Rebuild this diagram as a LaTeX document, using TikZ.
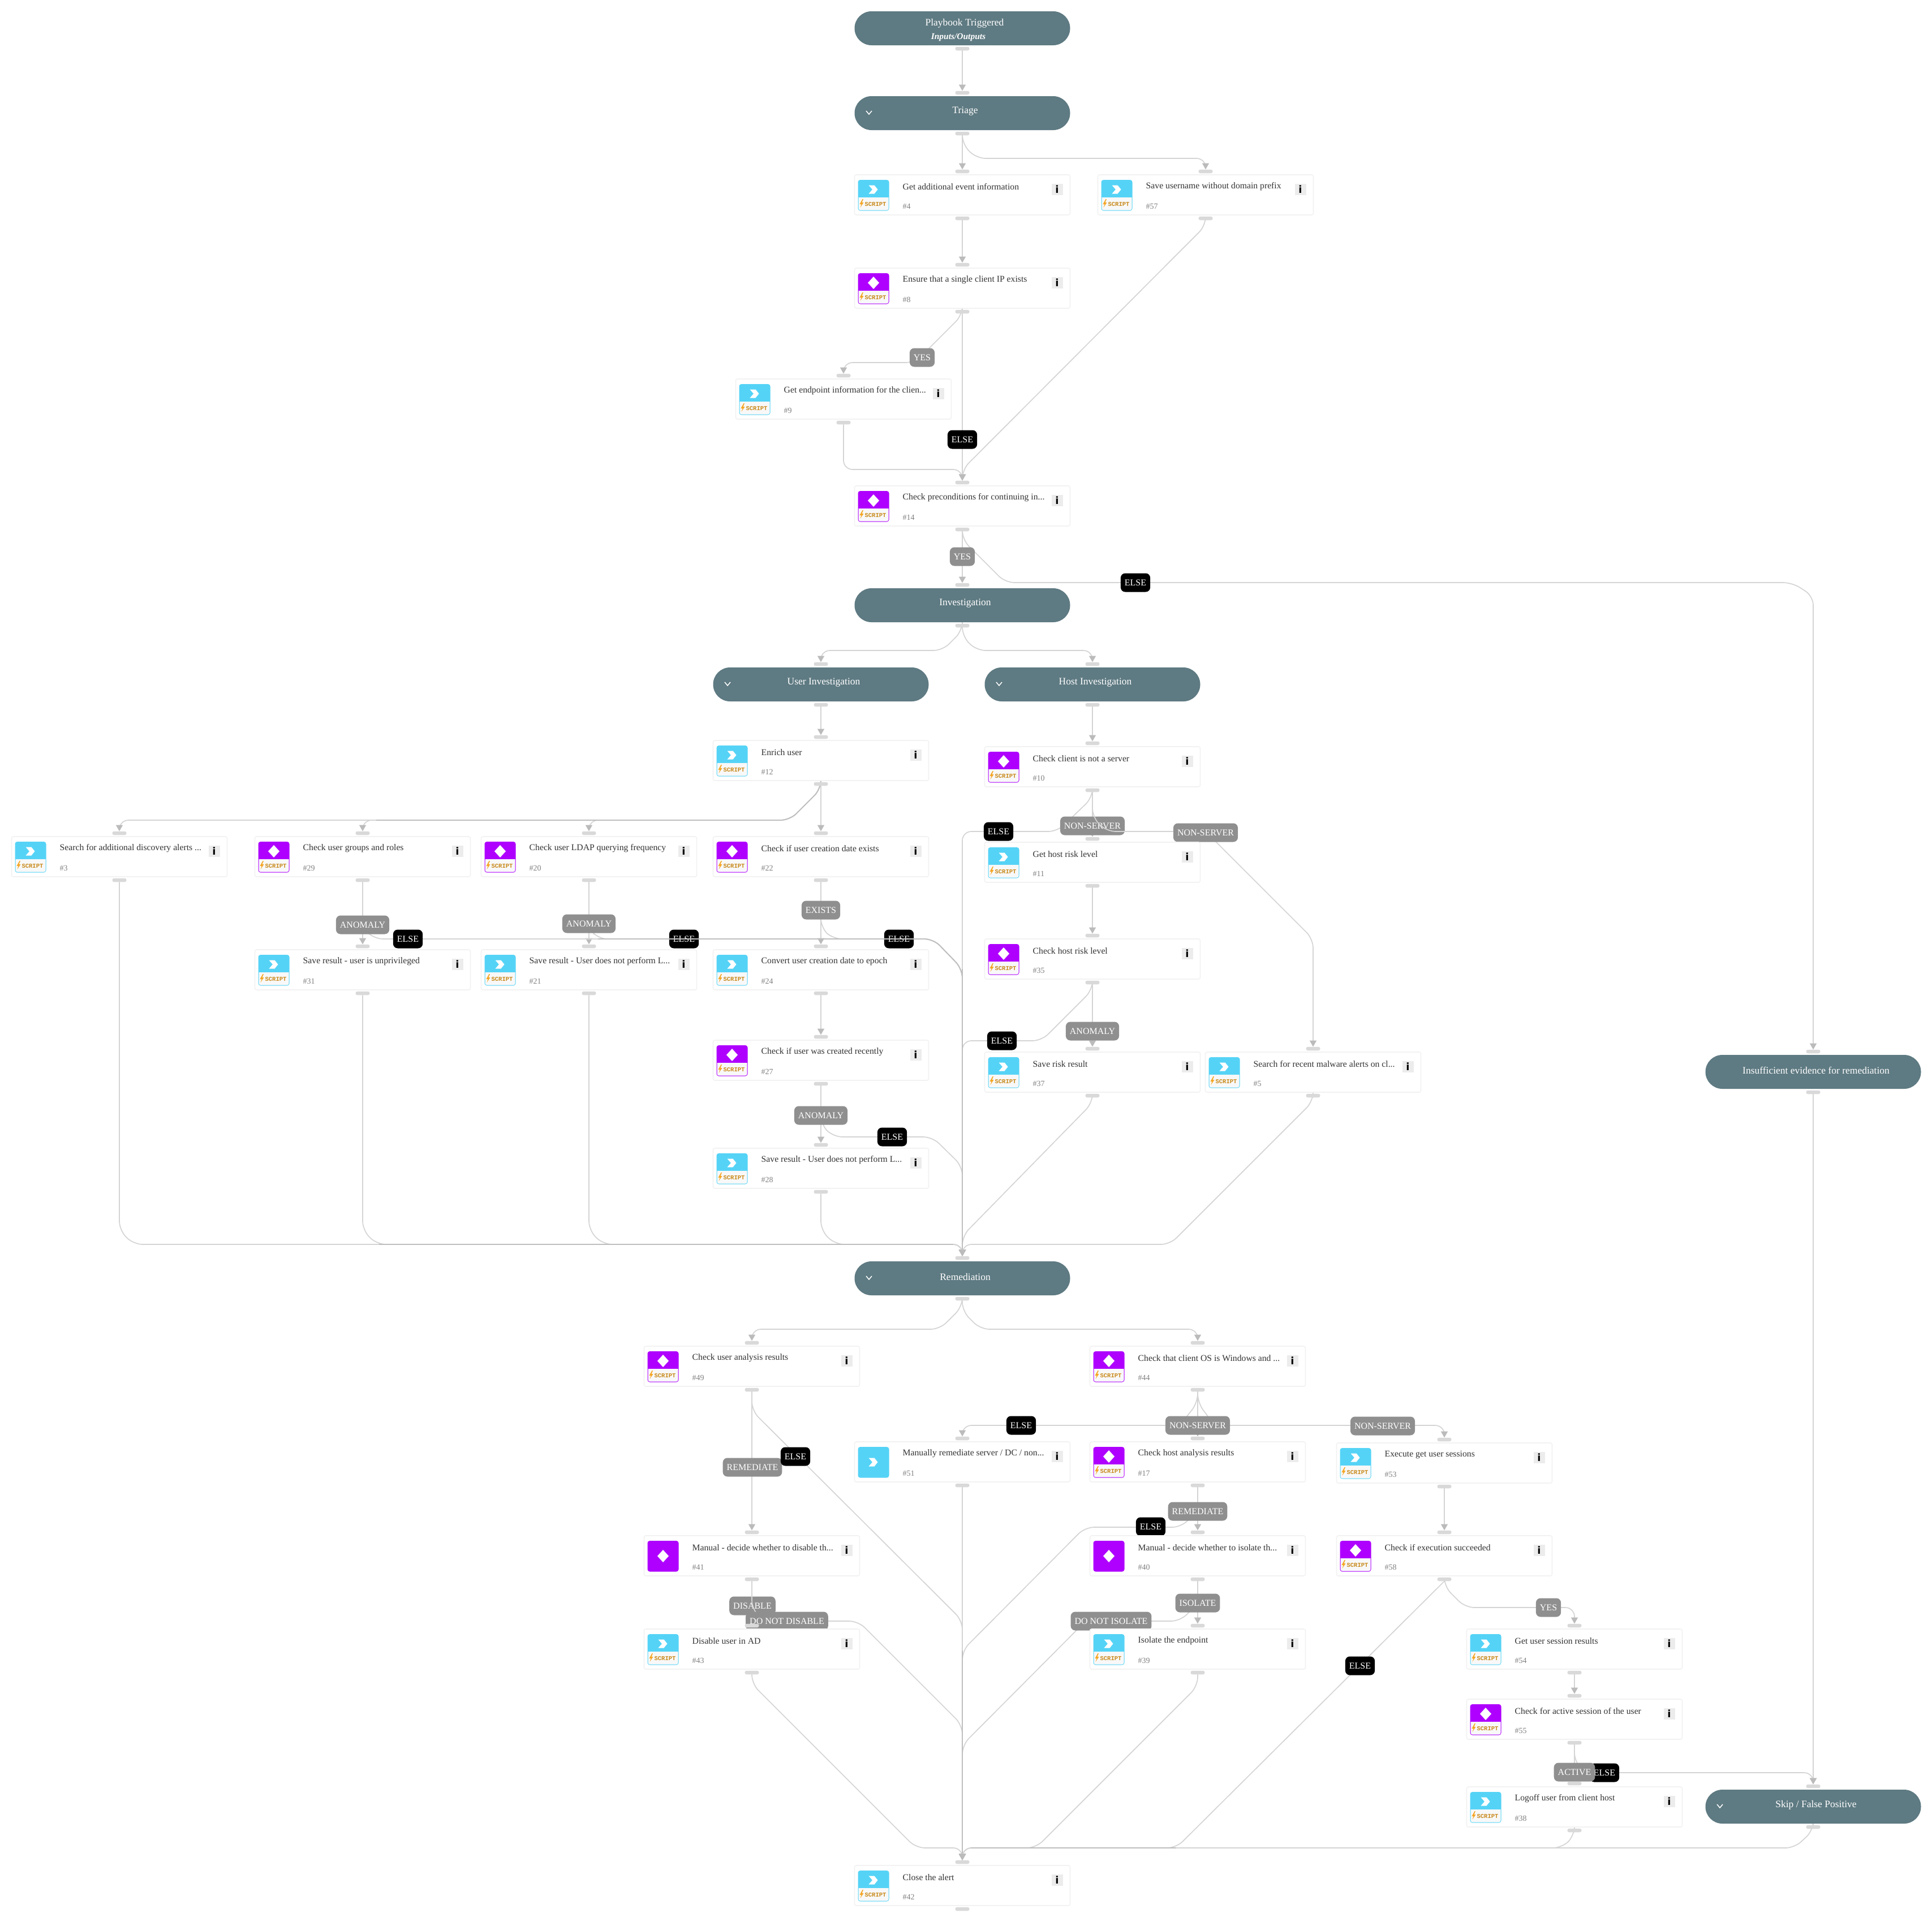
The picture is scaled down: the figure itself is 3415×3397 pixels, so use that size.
\documentclass[tikz,border=0pt]{standalone}
\usepackage{fontspec}
\setmainfont{Liberation Serif}
\setsansfont{DejaVu Sans}
\setmonofont{Liberation Mono}
\usetikzlibrary{arrows.meta}
\pgfdeclarelayer{edges}
\pgfsetlayers{edges,main}
\definecolor{pillgreen}{HTML}{5E7A82}
\definecolor{actblue}{HTML}{55D3F6}
\definecolor{condpurple}{HTML}{AF00FF}
\definecolor{scriptbg}{HTML}{F8F8F8}
\definecolor{scriptorange}{HTML}{C8891A}
\definecolor{boltorange}{HTML}{F5A623}
\definecolor{cardline}{HTML}{F2F2F2}
\definecolor{handlegray}{HTML}{D9D9D9}
\definecolor{infogray}{HTML}{ECECEC}
\definecolor{tipgray}{HTML}{BBBBBB}
\definecolor{edgegray}{HTML}{D4D4D4}
\definecolor{trunkgray}{HTML}{BEBEBE}
\definecolor{lblgray}{HTML}{8F8F8F}
\tikzset{
  x=1pt,y=-1pt,
  card/.style={draw=cardline,fill=white,line width=1.6pt,rounded corners=3pt,minimum width=381pt,minimum height=71pt,inner sep=0pt},
  cardtitle/.style={anchor=west,inner sep=0pt,text=black!80,font=\fontsize{15.7}{18}\selectfont},
  cardno/.style={anchor=west,inner sep=0pt,text=black!50,font=\fontsize{14}{16}\selectfont},
  infotxt/.style={inner sep=0pt,font=\sffamily\bfseries\fontsize{18}{18}\selectfont},
  scripttxt/.style={inner sep=0pt,text=scriptorange,font=\ttfamily\bfseries\fontsize{10.5}{12}\selectfont},
  handle/.style={fill=handlegray,rounded corners=3pt,minimum width=25pt,minimum height=6.5pt,inner sep=0pt},
  pill/.style={fill=pillgreen,rounded corners=29.9pt,minimum width=381pt,minimum height=60pt,inner sep=0pt},
  pilltxt/.style={inner sep=0pt,text=white,font=\fontsize{17.5}{20}\selectfont},
  subtxt/.style={inner sep=0pt,text=white,font=\bfseries\itshape\fontsize{15.5}{16}\selectfont},
  lbl/.style={fill=lblgray,text=white,rounded corners=8pt,minimum height=33pt,inner xsep=7pt,inner ysep=0pt,font=\fontsize{16}{18}\selectfont},
  lblelse/.style={lbl,fill=black},
  edge/.style={draw=edgegray,line width=1.7pt,rounded corners=16pt,-{Triangle[width=12pt,length=11pt,color=tipgray]}},
  trunk/.style={draw=trunkgray,line width=1.7pt,rounded corners=16pt}
}
\newcommand{\actglyph}[1]{\fill[white](25,#1-7.5)--(35,#1-7.5)--(41,#1)--(35,#1+7.5)--(25,#1+7.5)--(31.5,#1)--cycle;}
\newcommand{\condglyph}[1]{\fill[white](33.5,#1-11)--(43.5,#1)--(33.5,#1+11)--(23.5,#1)--cycle;}
\newcommand{\scriptpart}[1]{%
        \fill[scriptbg](7,40){[rounded corners=3pt]--(7,62.5)--(60,62.5)}--(60,40)--cycle;
        \fill[boltorange](14,43)--(9,52)--(12,52)--(10,58)--(16,49)--(13,49)--(15.5,43)--cycle;
        \node(#1script)[scripttxt]at(37,52){SCRIPT};}
\newcommand{\actscript}[1]{\fill[actblue,rounded corners=4pt](6,9)rectangle(61,63.5);\scriptpart{#1}\actglyph{26}}
\newcommand{\condscript}[1]{\fill[condpurple,rounded corners=4pt](6,9)rectangle(61,63.5);\scriptpart{#1}\condglyph{26}}
\newcommand{\actplain}[1]{\fill[actblue,rounded corners=4pt](6,9)rectangle(61,63.5);\actglyph{36}}
\newcommand{\condplain}[1]{\fill[condpurple,rounded corners=4pt](6,9)rectangle(61,63.5);\condglyph{36}}
\newcommand{\cardnode}[6]{%
        \begin{scope}[shift={(#2-190.5,#3)}]
        \node(#1)[card]at(190.5,35.5){};
        #6{#1}
        \node(#1title)[cardtitle]at(85,21){#4};
        \node(#1no)[cardno]at(85,55.5){\##5};
        \fill[infogray](348,16)rectangle(368,36);
        \node(#1info)[infotxt]at(358,26){i};
        \node(#1in)[handle]at(190.5,-6){};
        \node(#1out)[handle]at(190.5,77){};
        \end{scope}}
\newcommand{\pillnode}[4]{%
        \node(#1)[pill]at(#2,#3+30){};
        \node(#1txt)[pilltxt]at(#2+5,#3+27){#4};
        \node(#1in)[handle]at(#2,#3-6){};
        \node(#1out)[handle]at(#2,#3+66){};}
\newcommand{\chevmark}[2]{\draw[white,line width=1.5pt](#1-5,#2-3)--(#1,#2+3)--(#1+5,#2-3);}
\begin{document}
\begin{tikzpicture}
        \useasboundingbox(0,0)rectangle(3415,3397);
        \node(play)[pill]at(1701,50){};
        \node(playtxt)[pilltxt]at(1705,41){Playbook Triggered};
        \node(playsub)[subtxt]at(1694,66){Inputs/Outputs};
        \node(playout)[handle]at(1701,86){};
        \pillnode{triage}{1701}{170}{Triage}
        \chevmark{1536}{199}
        \cardnode{n4}{1701}{309}{Get additional event information}{4}{\actscript}
        \cardnode{n57}{2131}{309}{Save username without domain prefix}{57}{\actscript}
        \cardnode{n8}{1701}{474}{Ensure that a single client IP exists}{8}{\condscript}
        \cardnode{n9}{1491}{670}{Get endpoint information for the clien...}{9}{\actscript}
        \cardnode{n14}{1701}{859}{Check preconditions for continuing in...}{14}{\condscript}
        \pillnode{inv}{1701}{1040}{Investigation}
        \pillnode{user}{1451}{1180}{User Investigation}
        \chevmark{1286}{1209}
        \pillnode{host}{1931}{1180}{Host Investigation}
        \chevmark{1766}{1209}
        \cardnode{n12}{1451}{1309}{Enrich user}{12}{\actscript}
        \cardnode{n10}{1931}{1320}{Check client is not a server}{10}{\condscript}
        \cardnode{n3}{211}{1479}{Search for additional discovery alerts ...}{3}{\actscript}
        \cardnode{n29}{641}{1479}{Check user groups and roles}{29}{\condscript}
        \cardnode{n20}{1041}{1479}{Check user LDAP querying frequency}{20}{\condscript}
        \cardnode{n22}{1451}{1479}{Check if user creation date exists}{22}{\condscript}
        \cardnode{n31}{641}{1679}{Save result - user is unprivileged}{31}{\actscript}
        \cardnode{n21}{1041}{1679}{Save result - User does not perform L...}{21}{\actscript}
        \cardnode{n24}{1451}{1679}{Convert user creation date to epoch}{24}{\actscript}
        \cardnode{n11}{1931}{1489}{Get host risk level}{11}{\actscript}
        \cardnode{n35}{1931}{1660}{Check host risk level}{35}{\condscript}
        \cardnode{n37}{1931}{1860}{Save risk result}{37}{\actscript}
        \cardnode{n5}{2321}{1860}{Search for recent malware alerts on cl...}{5}{\actscript}
        \cardnode{n27}{1451}{1839}{Check if user was created recently}{27}{\condscript}
        \cardnode{n28}{1451}{2030}{Save result - User does not perform L...}{28}{\actscript}
        \pillnode{insuff}{3205}{1865}{Insufficient evidence for remediation}
        \pillnode{rem}{1701}{2230}{Remediation}
        \chevmark{1536}{2259}
        \cardnode{n49}{1329}{2380}{Check user analysis results}{49}{\condscript}
        \cardnode{n44}{2117}{2380}{Check that client OS is Windows and ...}{44}{\condscript}
        \cardnode{n51}{1701}{2549}{Manually remediate server / DC / non...}{51}{\actplain}
        \cardnode{n17}{2117}{2549}{Check host analysis results}{17}{\condscript}
        \cardnode{n53}{2553}{2551}{Execute get user sessions}{53}{\actscript}
        \cardnode{n41}{1329}{2715}{Manual - decide whether to disable th...}{41}{\condplain}
        \cardnode{n40}{2117}{2715}{Manual - decide whether to isolate th...}{40}{\condplain}
        \cardnode{n58}{2553}{2715}{Check if execution succeeded}{58}{\condscript}
        \cardnode{n43}{1329}{2880}{Disable user in AD}{43}{\actscript}
        \cardnode{n39}{2117}{2880}{Isolate the endpoint}{39}{\actscript}
        \cardnode{n54}{2783}{2880}{Get user session results}{54}{\actscript}
        \cardnode{n55}{2783}{3004}{Check for active session of the user}{55}{\condscript}
        \cardnode{n38}{2783}{3159}{Logoff user from client host}{38}{\actscript}
        \pillnode{skip}{3205}{3164}{Skip / False Positive}
        \chevmark{3040}{3193}
        \cardnode{n42}{1701}{3298}{Close the alert}{42}{\actscript}
        \coordinate(remtop)at(1701,2209);
        \coordinate(endtop)at(1701,3277);
        \begin{pgfonlayer}{edges}
        \draw[edge](playout)--(triagein);
        \draw[edge](triageout)--(n4in);
        \draw[edge](triageout)--(1701,255)--(1726,280)--(2131,280)--(n57in);
        \draw[edge](n4out)--(n8in);
        \draw[edge](n8out)--(1701,557)--(1617,641)--(1491,641)--(n9in);
        \node(l8yes)[lbl]at(1630,632){YES};
        \draw[edge](n8out)--(n14in);
        \node(l8else)[lblelse]at(1701,777){ELSE};
        \draw[edge](n57out)--(2131,399)--(1701,830)--(n14in);
        \draw[edge](n9out)--(1491,830)--(1701,830)--(n14in);
        \draw[edge](n14out)--(1701,954)--(1777,1030)--(3168,1030)--(3205,1054)--(insuffin);
        \node(l14else)[lblelse]at(2007,1030){ELSE};
        \draw[edge](n14out)--(invin);
        \node(l14yes)[lbl]at(1701,984){YES};
        \draw[edge](invout)--(1701,1115)--(1666,1150)--(1451,1150)--(userin);
        \draw[edge](invout)--(1701,1125)--(1726,1150)--(1931,1150)--(hostin);
        \draw[edge](userout)--(n12in);
        \draw[edge](hostout)--(n10in);
        \draw[edge](n12out)--(1451,1395)--(1396,1450)--(211,1450)--(n3in);
        \draw[edge](n12out)--(1451,1395)--(1396,1450)--(641,1450)--(n29in);
        \draw[edge](n12out)--(1451,1395)--(1396,1450)--(1041,1450)--(n20in);
        \draw[trunk](n12out)--(1451,1395)--(1396,1450)--(665,1450);
        \draw[edge](n12out)--(n22in);
        \draw[edge](n22out)--(n24in);
        \draw[edge](n22out)--(1451,1640)--(1472,1660)--(1650,1660)--(1701,1713)--(remin);
        \node(l22yes)[lbl]at(1451,1609){EXISTS};
        \node(l22else)[lblelse]at(1589,1660){ELSE};
        \draw[edge](n20out)--(n21in);
        \draw[edge](n20out)--(1041,1640)--(1057,1660)--(1650,1660)--(1701,1713)--(remin);
        \node(l20yes)[lbl]at(1041,1633){ANOMALY};
        \node(l20else)[lblelse]at(1209,1660){ELSE};
        \draw[edge](n29out)--(n31in);
        \draw[edge](n29out)--(641,1640)--(661,1660)--(1650,1660)--(1701,1713)--(remin);
        \draw[trunk](1057,1660)--(1650,1660)--(1701,1713)--(remtop);
        \node(l29yes)[lbl]at(641,1635){ANOMALY};
        \node(l29else)[lblelse]at(721,1660){ELSE};
        \draw[edge](n24out)--(n27in);
        \draw[edge](n27out)--(n28in);
        \draw[edge](n27out)--(1451,1988)--(1473,2010)--(1648,2010)--(1701,2062)--(remin);
        \node(l27yes)[lbl]at(1451,1972){ANOMALY};
        \node(l27else)[lblelse]at(1577,2010){ELSE};
        \draw[edge](n3out)--(211,2175)--(236,2200)--(1701,2200)--(remin);
        \draw[edge](n31out)--(641,2175)--(666,2200)--(1701,2200)--(remin);
        \draw[edge](n21out)--(1041,2175)--(1066,2200)--(1701,2200)--(remin);
        \draw[edge](n28out)--(1451,2175)--(1476,2200)--(1701,2200)--(remin);
        \draw[trunk](670,2200)--(1685,2200);
        \draw[edge](n10out)--(1931,1410)--(1869,1470)--(1701,1470)--(remin);
        \node(l10else)[lblelse]at(1765,1470){ELSE};
        \draw[edge](n10out)--(n11in);
        \node(l10yes)[lbl]at(1931,1460){NON-SERVER};
        \draw[edge](n10out)--(1931,1445)--(1956,1470)--(2131,1470)--(2321,1660)--(n5in);
        \node(l10srv)[lbl]at(2131,1472){NON-SERVER};
        \draw[edge](n11out)--(n35in);
        \draw[edge](n35out)--(n37in);
        \draw[edge](n35out)--(1931,1750)--(1841,1840)--(1701,1840)--(remin);
        \node(l35yes)[lbl]at(1931,1823){ANOMALY};
        \node(l35else)[lblelse]at(1771,1840){ELSE};
        \draw[edge](n37out)--(1931,1950)--(1701,2185)--(remin);
        \draw[edge](n5out)--(2321,1947)--(2068,2200)--(1701,2200)--(remin);
        \draw[trunk](1701,1713)--(remtop);
        \draw[edge](insuffout)--(skipin);
        \draw[edge](remout)--(1701,2310)--(1661,2350)--(1329,2350)--(n49in);
        \draw[edge](remout)--(1701,2318)--(1733,2350)--(2117,2350)--(n44in);
        \draw[edge](n49out)--(n41in);
        \draw[edge](n49out)--(1329,2494)--(1701,2865)--(n42in);
        \node(l49yes)[lbl]at(1330,2594){REMEDIATE};
        \node(l49else)[lblelse]at(1406,2575){ELSE};
        \draw[edge](n41out)--(n43in);
        \node(l41yes)[lbl]at(1330,2839){DISABLE};
        \draw[edge](n41out)--(1329,2845)--(1350,2866)--(1517,2866)--(1701,3050)--(n42in);
        \node(l41no)[lbl]at(1391,2866){DO NOT DISABLE};
        \draw[edge](n44out)--(2117,2480)--(2085,2520)--(1701,2520)--(n51in);
        \node(l44else)[lblelse]at(1805,2520){ELSE};
        \draw[edge](n44out)--(n17in);
        \draw[edge](n44out)--(2117,2480)--(2147,2520)--(2553,2520)--(n53in);
        \node(l44yes)[lbl]at(2117,2520){NON-SERVER};
        \node(l44srv)[lbl]at(2444,2521){NON-SERVER};
        \draw[edge](n51out)--(n42in);
        \draw[edge](n17out)--(n40in);
        \draw[edge](n17out)--(2117,2670)--(2088,2700)--(1918,2700)--(1701,2918)--(n42in);
        \node(l17yes)[lbl]at(2117,2672){REMEDIATE};
        \node(l17else)[lblelse]at(2034,2699){ELSE};
        \draw[edge](n40out)--(n39in);
        \draw[edge](n40out)--(2117,2835)--(2086,2866)--(1919,2866)--(1701,3085)--(n42in);
        \node(l40yes)[lbl]at(2117,2834){ISOLATE};
        \node(l40no)[lbl]at(1964,2866){DO NOT ISOLATE};
        \draw[edge](n53out)--(n58in);
        \draw[edge](n58out)--(2553,2805)--(2590,2842)--(2783,2842)--(n54in);
        \node(l58yes)[lbl]at(2737,2842){YES};
        \draw[edge](n58out.south)--(2079,3267)--(1701,3267)--(n42in);
        \node(l58else)[lblelse]at(2404,2945){ELSE};
        \draw[edge](n54out)--(n55in);
        \draw[edge](n55out)--(2783,3115)--(2802,3134)--(3205,3134)--(skipin);
        \node(l55else)[lblelse]at(2836,3134){ELSE};
        \draw[edge](n55out)--(n38in);
        \node(l55yes)[lbl]at(2783,3133){ACTIVE};
        \draw[edge](n43out)--(1329,2977)--(1619,3267)--(1701,3267)--(n42in);
        \draw[edge](n39out)--(2117,2981)--(1831,3267)--(1701,3267)--(n42in);
        \draw[edge](n38out)--(2783,3245)--(2761,3267)--(1701,3267)--(n42in);
        \draw[edge](skipout)--(3205,3236)--(3172,3267)--(1701,3267)--(n42in);
        \draw[trunk](2079,3267)--(1716,3267);
        \draw[trunk](1701,2918)--(endtop);
        \end{pgfonlayer}
\end{tikzpicture}
\end{document}
